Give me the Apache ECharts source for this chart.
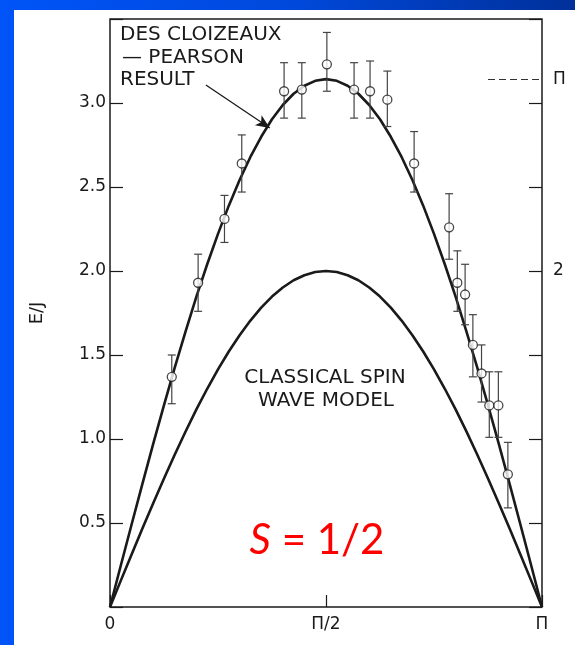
<!DOCTYPE html>
<html>
<head>
<meta charset="utf-8">
<script src="https://cdn.jsdelivr.net/npm/echarts@6/dist/echarts.min.js"></script>
<style>
  html, body { margin: 0; padding: 0; }
  body { width: 575px; height: 645px; position: relative; overflow: hidden;
         background: linear-gradient(to right, #0054f8 0%, #0049dc 50%, #00309a 100%); }
  #panel { position: absolute; left: 14px; top: 10px; right: 0; bottom: 0; background: #fff; }
  #chart { position: absolute; left: 0; top: 0; width: 575px; height: 645px; }
</style>
</head>
<body>
<div id="panel"></div>
<div id="chart"></div>
<script>
// x is in units of pi (0 .. 1), y is E/J
const xTickLabels = ['0', 'Π/2', 'Π']

// theory curves
const curveX = [0, 0.025, 0.05, 0.075, 0.1, 0.125, 0.15, 0.175, 0.2, 0.225, 0.25,
  0.275, 0.3, 0.325, 0.35, 0.375, 0.4, 0.425, 0.45, 0.475, 0.5,
  0.525, 0.55, 0.575, 0.6, 0.625, 0.65, 0.675, 0.7, 0.725, 0.75,
  0.775, 0.8, 0.825, 0.85, 0.875, 0.9, 0.925, 0.95, 0.975, 1]
const dcpY = [0, 0.247, 0.491, 0.733, 0.971, 1.202, 1.426, 1.641, 1.847, 2.040, 2.221,
  2.389, 2.542, 2.679, 2.799, 2.903, 2.988, 3.055, 3.103, 3.132, 3.142,
  3.132, 3.103, 3.055, 2.988, 2.903, 2.799, 2.679, 2.542, 2.389, 2.221,
  2.040, 1.847, 1.641, 1.426, 1.202, 0.971, 0.733, 0.491, 0.247, 0]
const spinWaveY = [0, 0.157, 0.313, 0.467, 0.618, 0.765, 0.908, 1.045, 1.176, 1.299, 1.414,
  1.521, 1.618, 1.705, 1.782, 1.848, 1.902, 1.945, 1.975, 1.994, 2.000,
  1.994, 1.975, 1.945, 1.902, 1.848, 1.782, 1.705, 1.618, 1.521, 1.414,
  1.299, 1.176, 1.045, 0.908, 0.765, 0.618, 0.467, 0.313, 0.157, 0]

// measured points with error bars
const pointX = [0.143, 0.204, 0.265, 0.305, 0.403, 0.444, 0.502, 0.565, 0.602, 0.642,
  0.704, 0.785, 0.804, 0.822, 0.840, 0.860, 0.878, 0.899, 0.921]
const pointY = [1.37, 1.93, 2.31, 2.64, 3.07, 3.08, 3.23, 3.08, 3.07, 3.02,
  2.64, 2.26, 1.93, 1.86, 1.56, 1.39, 1.20, 1.20, 0.79]
const errLow = [1.21, 1.76, 2.17, 2.47, 2.91, 2.91, 3.07, 2.91, 2.91, 2.86,
  2.47, 2.07, 1.76, 1.68, 1.37, 1.22, 1.01, 1.01, 0.59]
const errHigh = [1.50, 2.10, 2.45, 2.81, 3.24, 3.24, 3.42, 3.24, 3.25, 3.19,
  2.83, 2.46, 2.12, 2.04, 1.74, 1.56, 1.40, 1.40, 0.98]

// annotations
const piLevel = 3.1416
const piDashFrom = 0.875
const arrowFrom = [0.222, 3.107]
const arrowTo = [0.370, 2.851]

const ink = '#1a1a1a'
const font = 'DejaVu Sans'

const chart = echarts.init(document.getElementById('chart'))

const dcpData = curveX.map((x, i) => [x, dcpY[i]])
const swData = curveX.map((x, i) => [x, spinWaveY[i]])
const pointData = pointX.map((x, i) => [x, pointY[i]])
const errData = pointX.map((x, i) => [x, errLow[i], errHigh[i]])

const option = {
  animation: false,
  backgroundColor: 'transparent',
  grid: {
    left: 110, right: 33, top: 19, bottom: 38,
    show: true, borderColor: ink, borderWidth: 1.5, backgroundColor: 'transparent'
  },
  xAxis: {
    type: 'value', min: 0, max: 1, interval: 0.5,
    axisLine: { show: false },
    splitLine: { show: false },
    axisTick: { inside: true, length: 12, lineStyle: { color: ink, width: 1.2 } },
    axisLabel: {
      margin: 9, color: ink, fontFamily: font, fontSize: 17,
      formatter: (v) => xTickLabels[Math.round(v * 2)]
    }
  },
  yAxis: [
    {
      type: 'value', min: 0, max: 3.5, interval: 0.5,
      name: 'E/J', nameLocation: 'middle', nameGap: 64, nameRotate: 90,
      nameTextStyle: { color: ink, fontFamily: font, fontSize: 18 },
      axisLine: { show: false },
      splitLine: { show: false },
      axisTick: { inside: true, length: 13, lineStyle: { color: ink, width: 1.2 } },
      axisLabel: {
        margin: 4, color: ink, fontFamily: font, fontSize: 17,
        formatter: (v) => (v === 0 || v === 3.5) ? '' : v.toFixed(1)
      }
    },
    {
      type: 'value', min: 0, max: 3.5, interval: 0.5, position: 'right',
      axisLine: { show: false },
      splitLine: { show: false },
      axisTick: { inside: true, length: 13, lineStyle: { color: ink, width: 1.2 } },
      axisLabel: {
        margin: 11, color: ink, fontFamily: font, fontSize: 17,
        formatter: (v) => v === 2 ? '2' : ''
      }
    }
  ],
  series: [
    {
      name: 'Des Cloizeaux-Pearson',
      type: 'line', data: dcpData, smooth: false, showSymbol: false, z: 3,
      lineStyle: { color: ink, width: 2.6, join: 'round' },
      markLine: {
        silent: true, symbol: ['none', 'none'],
        lineStyle: { color: '#333', width: 1.2, type: [7, 4] },
        label: { show: true, position: 'end', distance: 11, formatter: 'Π',
          color: ink, fontFamily: font, fontSize: 17 },
        data: [[{ coord: [piDashFrom, piLevel] }, { coord: [1, piLevel] }]]
      }
    },
    {
      name: 'Classical spin wave',
      type: 'line', data: swData, smooth: false, showSymbol: false, z: 3,
      lineStyle: { color: ink, width: 2.6, join: 'round' },
      markLine: {
        silent: true, symbol: ['none', 'arrow'], symbolSize: [9, 14],
        lineStyle: { color: ink, width: 1.3, type: 'solid' },
        label: { show: false },
        data: [[{ coord: arrowFrom }, { coord: arrowTo }]]
      }
    },
    {
      name: 'error bars',
      type: 'custom', data: errData, z: 4,
      renderItem: (params, api) => {
        const lo = api.coord([api.value(0), api.value(1)])
        const hi = api.coord([api.value(0), api.value(2)])
        const cap = 4
        const style = { stroke: '#444', lineWidth: 1.2 }
        return {
          type: 'group',
          children: [
            { type: 'line', shape: { x1: lo[0], y1: lo[1], x2: hi[0], y2: hi[1] }, style },
            { type: 'line', shape: { x1: lo[0] - cap, y1: lo[1], x2: lo[0] + cap, y2: lo[1] }, style },
            { type: 'line', shape: { x1: hi[0] - cap, y1: hi[1], x2: hi[0] + cap, y2: hi[1] }, style }
          ]
        }
      }
    },
    {
      name: 'data',
      type: 'scatter', data: pointData, z: 5,
      symbol: 'circle', symbolSize: 9,
      itemStyle: { color: '#fff', borderColor: ink, borderWidth: 1.3 }
    }
  ],
  graphic: [
    { type: 'text', left: 120, top: 25, z: 10,
      style: { text: 'DES CLOIZEAUX', fill: ink, font: '20px "DejaVu Sans"' } },
    { type: 'text', left: 122, top: 48, z: 10,
      style: { text: '— PEARSON', fill: ink, font: '20px "DejaVu Sans"' } },
    { type: 'text', left: 120, top: 70, z: 10,
      style: { text: 'RESULT', fill: ink, font: '20px "DejaVu Sans"' } },
    { type: 'text', x: 325, y: 378, z: 10,
      style: { text: 'CLASSICAL SPIN', fill: ink, font: '20px "DejaVu Sans"',
        align: 'center', verticalAlign: 'middle' } },
    { type: 'text', x: 326, y: 401, z: 10,
      style: { text: 'WAVE MODEL', fill: ink, font: '20px "DejaVu Sans"',
        align: 'center', verticalAlign: 'middle' } },
    { type: 'text', x: 317, y: 540, z: 10,
      style: {
        text: '{i|S}{n| = 1/2}', align: 'center', verticalAlign: 'middle',
        rich: {
          i: { fill: '#f00', fontFamily: 'Lato', fontSize: 42, fontStyle: 'italic' },
          n: { fill: '#f00', fontFamily: 'Lato', fontSize: 42 }
        }
      } }
  ]
}

chart.setOption(option)
</script>
</body>
</html>
